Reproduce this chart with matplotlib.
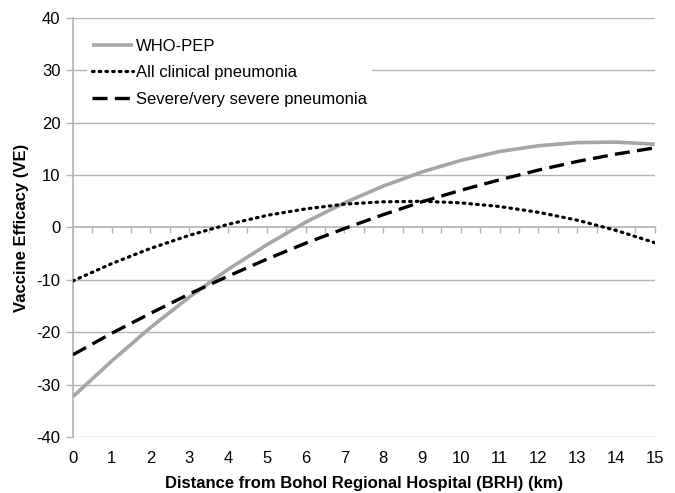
import matplotlib
matplotlib.use("Agg")
import matplotlib.pyplot as plt
import numpy as np

plt.rcParams['font.family'] = ['Liberation Sans', 'DejaVu Sans']

distance_km = [0, 1, 2, 3, 4, 5, 6, 7, 8, 9, 10, 11, 12, 13, 14, 15]
who_pep = [-32.3, -25.5, -19.1, -13.3, -8.0, -3.3, 1.0, 4.7, 7.9, 10.6, 12.8, 14.5, 15.6, 16.2, 16.3, 15.9]
all_clinical = [-10.2, -6.9, -4.0, -1.5, 0.6, 2.3, 3.55, 4.45, 4.9, 5.0, 4.7, 4.0, 2.9, 1.4, -0.55, -2.9]
severe = [-24.3, -20.2, -16.4, -12.7, -9.3, -6.05, -3.0, -0.2, 2.45, 4.9, 7.1, 9.1, 10.95, 12.6, 14.0, 15.2]

y_ticks = [-40, -30, -20, -10, 0, 10, 20, 30, 40]
x_ticks = list(range(0, 16))

fig = plt.figure(figsize=(6.75, 4.93), dpi=100)
ax = fig.add_axes([0.108, 0.1136, 0.862, 0.85])

grid_c = '#b3b3b3'
for yv in y_ticks:
    if yv != 0:
        ax.axhline(yv, color=grid_c, lw=1.0, zorder=0)

ax.plot(distance_km, who_pep, color='#a6a6a6', lw=2.6, label='WHO-PEP', zorder=3,
        solid_capstyle='butt')
ax.plot(distance_km, all_clinical, color='black', lw=2.3, linestyle=(0, (0.5, 1.6)),
        dash_capstyle='round', label='All clinical pneumonia', zorder=4)
ax.plot(distance_km, severe, color='black', lw=2.4, linestyle=(0, (4.5, 2.2)),
        label='Severe/very severe pneumonia', zorder=4)

ax.set_xlim(0, 15)
ax.set_ylim(-40, 40)

for s in ['top', 'right']:
    ax.spines[s].set_visible(False)
ax.spines['left'].set_color(grid_c)
ax.spines['left'].set_linewidth(1.2)
ax.spines['bottom'].set_position(('data', 0))
ax.spines['bottom'].set_color(grid_c)
ax.spines['bottom'].set_linewidth(1.2)

ax.set_xticks(np.arange(0, 15.01, 0.5))
ax.tick_params(axis='x', direction='out', length=4, width=1, color=grid_c,
               labelbottom=False)
ax.set_yticks(y_ticks)
ax.set_yticklabels([str(v) for v in y_ticks])
ax.tick_params(axis='y', direction='out', length=5, width=1, color=grid_c,
               labelsize=12, labelcolor='black', pad=4)

sec = ax.secondary_xaxis('bottom')
sec.set_xticks(x_ticks)
sec.set_xticklabels([str(v) for v in x_ticks])
sec.tick_params(length=0, labelsize=12, pad=10)
sec.spines['bottom'].set_visible(False)
sec.set_xlabel('Distance from Bohol Regional Hospital (BRH) (km)', fontsize=12,
               fontweight='bold', labelpad=7)

ax.set_ylabel('Vaccine Efficacy (VE)', fontsize=12, fontweight='bold', labelpad=5)

leg = ax.legend(loc='upper left', bbox_to_anchor=(0.024, 0.962), fontsize=12,
                frameon=True, framealpha=1, facecolor='white', edgecolor='none',
                fancybox=False, handlelength=2.45, handletextpad=0.2,
                labelspacing=0.68, borderpad=0.3, borderaxespad=0)

fig.savefig('out.png', dpi=100)
